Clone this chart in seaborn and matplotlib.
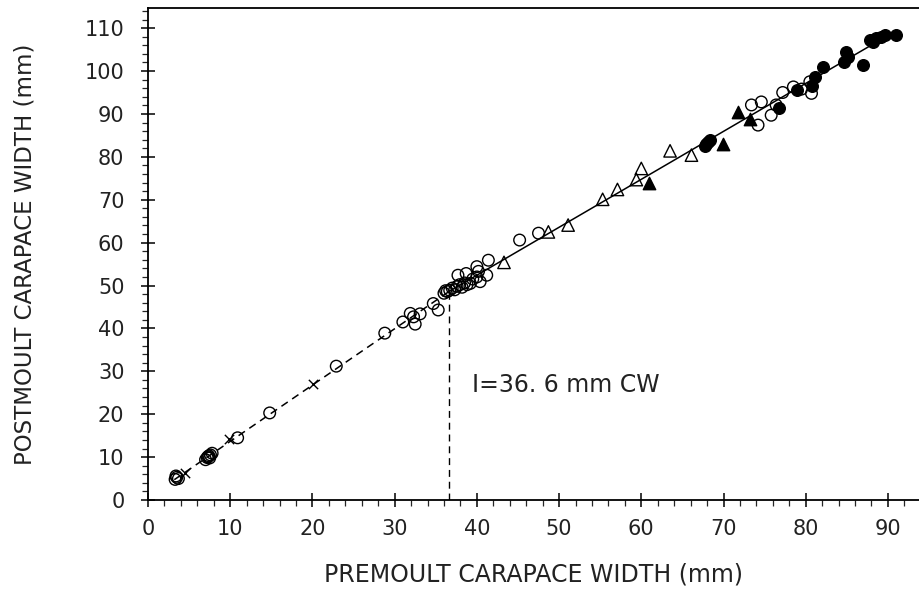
import numpy as np
import pandas as pd
import matplotlib
matplotlib.use("Agg")
import matplotlib.pyplot as plt
from matplotlib.ticker import MultipleLocator
import seaborn as sns

# --- Moult increment data: premoult vs postmoult carapace width (mm) ---
open_circle_pre = [3.3, 3.5, 3.7, 3.4, 7.0, 7.2, 7.4, 7.6, 7.8, 7.3, 7.5,
                   10.9, 14.8, 22.9, 28.8, 31.0, 31.9, 32.3, 33.1, 32.5, 34.7, 35.3,
                   36.0, 36.4, 36.7, 37.0, 37.3, 37.6, 36.2, 37.9, 38.2, 38.5, 38.8,
                   39.2, 40.4, 37.7, 38.7, 40.0, 41.2, 41.4, 40.0, 39.5, 40.2,
                   45.2, 47.5,
                   73.4, 74.6, 74.2, 75.8, 76.4, 77.2, 78.5, 80.7, 80.5, 79.5]
open_circle_post = [4.8, 5.3, 5.0, 5.6, 9.4, 9.9, 10.3, 10.5, 10.9, 10.1, 9.8,
                    14.5, 20.3, 31.2, 38.9, 41.5, 43.5, 42.7, 43.4, 41.0, 45.8, 44.3,
                    48.2, 48.6, 48.9, 49.4, 49.0, 49.8, 48.8, 50.2, 49.6, 50.6, 50.2,
                    50.5, 50.9, 52.4, 52.8, 52.0, 52.4, 55.9, 54.4, 51.5, 53.3,
                    60.6, 62.2,
                    92.1, 92.8, 87.4, 89.7, 92.1, 95.0, 96.3, 94.8, 97.5, 95.8]

cross_pre = [4.5, 9.8, 20.1]
cross_post = [6.4, 14.3, 27.0]

open_tri_pre = [43.3, 48.7, 51.1, 55.3, 57.1, 59.4, 60.0, 63.5, 66.1]
open_tri_post = [55.4, 62.5, 64.1, 70.1, 72.4, 74.7, 77.3, 81.4, 80.4]

filled_tri_pre = [60.9, 69.9, 71.8, 73.2]
filled_tri_post = [74.0, 83.1, 90.5, 88.9]

filled_circle_pre = [67.8, 68.1, 68.3, 67.9, 76.8, 78.9, 81.1, 82.1, 80.8,
                     84.9, 85.1, 84.7, 87.0, 87.8, 88.6, 89.6, 91.0, 88.2, 89.2]
filled_circle_post = [82.6, 83.5, 84.0, 83.0, 91.3, 95.5, 98.6, 101.0, 96.5,
                      104.5, 103.3, 102.2, 101.4, 107.2, 107.6, 108.4, 108.4, 106.8, 108.0]

# Fitted growth lines on either side of the inflection point
inflection = 36.6
inflection_label = "I=36. 6 mm CW"
pre_fit_range = [3.2, inflection]
pre_fit_coef = (0.535, 1.313)      # intercept, slope
post_fit_range = [inflection, 90.5]
post_fit_coef = (7.68, 1.118)

x_ticks = list(range(0, 100, 10))
y_ticks = list(range(0, 120, 10))

sns.set_style("ticks")
plt.rcParams["font.family"] = ["DejaVu Sans"]
plt.rcParams["axes.linewidth"] = 1.3

fig = plt.figure(figsize=(9.2, 5.92), dpi=100)
ax = fig.add_axes([148 / 920, 92 / 592, 1 - 148 / 920, 492 / 592])

ms = 70
sns.scatterplot(x=open_circle_pre, y=open_circle_post, marker="o", s=ms,
                facecolors="none", edgecolor="black", linewidth=1.0, ax=ax, zorder=3)
sns.scatterplot(x=cross_pre, y=cross_post, marker="x", s=45,
                color="black", linewidth=1.0, ax=ax, zorder=3)
sns.scatterplot(x=open_tri_pre, y=open_tri_post, marker="^", s=80,
                facecolors="none", edgecolor="black", linewidth=1.0, ax=ax, zorder=3)
sns.scatterplot(x=filled_tri_pre, y=filled_tri_post, marker="^", s=80,
                color="black", edgecolor="black", linewidth=1.0, ax=ax, zorder=3)
sns.scatterplot(x=filled_circle_pre, y=filled_circle_post, marker="o", s=ms,
                color="black", edgecolor="black", linewidth=1.0, ax=ax, zorder=3)

# Regression lines
xa = np.array(pre_fit_range)
sns.lineplot(x=xa, y=pre_fit_coef[0] + pre_fit_coef[1] * xa, ax=ax, color="black",
             linewidth=1.1, linestyle=(0, (5, 3.5)), zorder=2)
xb = np.array(post_fit_range)
sns.lineplot(x=xb, y=post_fit_coef[0] + post_fit_coef[1] * xb, ax=ax, color="black",
             linewidth=1.1, zorder=2)

# Vertical marker at the inflection point
y_inf = pre_fit_coef[0] + pre_fit_coef[1] * inflection
ax.plot([inflection, inflection], [0, y_inf], color="black", linewidth=1.0,
        linestyle=(0, (5, 3.5)), zorder=2)
ax.text(inflection + 2.8, 26.8, inflection_label,
        fontsize=17, va="center", ha="left", color="#222222")

ax.set_xlim(0, 93.9)
ax.set_ylim(0, 114.7)
ax.set_xticks(x_ticks)
ax.set_yticks(y_ticks)
ax.xaxis.set_minor_locator(MultipleLocator(2))
ax.yaxis.set_minor_locator(MultipleLocator(2))
ax.tick_params(axis="both", which="major", direction="inout", length=10, width=1.1,
               labelsize=15, colors="black", labelcolor="#222222")
ax.tick_params(axis="both", which="minor", direction="out", length=4, width=0.9)
ax.tick_params(axis="x", which="major", pad=9)
ax.tick_params(axis="y", which="major", pad=12)

ax.spines["right"].set_visible(False)
for s in ("left", "bottom", "top"):
    ax.spines[s].set_color("black")

ax.set_xlabel("PREMOULT CARAPACE WIDTH (mm)", fontsize=17, color="#222222")
ax.set_ylabel("POSTMOULT CARAPACE WIDTH (mm)", fontsize=16.5, color="#222222")
ax.xaxis.set_label_coords(0.5, -0.128)
ax.yaxis.set_label_coords(-0.145, 0.5)

fig.savefig("out.png", dpi=100, facecolor="white")
